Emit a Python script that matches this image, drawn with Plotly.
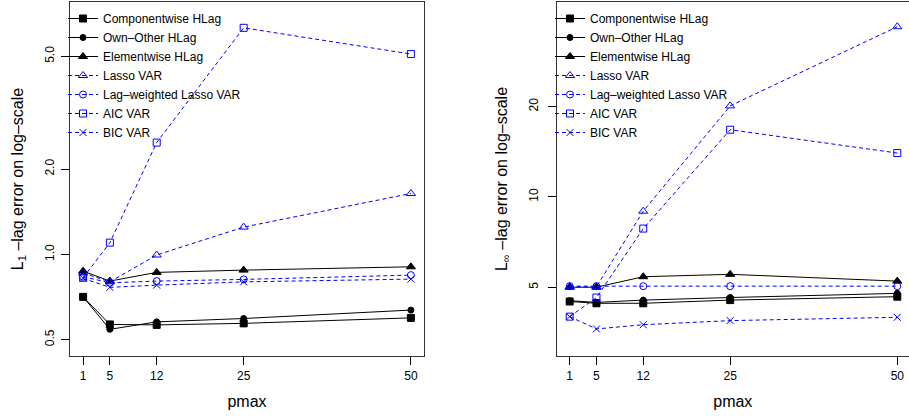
import plotly.graph_objects as go

pmax = [1, 5, 12, 25, 50]
methods = ["Componentwise HLag", "Own\u2013Other HLag", "Elementwise HLag",
           "Lasso VAR", "Lag\u2013weighted Lasso VAR", "AIC VAR", "BIC VAR"]

# L1-lag error (left panel)
l1_comp = [0.708, 0.566, 0.564, 0.571, 0.597]
l1_own = [0.708, 0.544, 0.578, 0.594, 0.636]
l1_elem = [0.873, 0.805, 0.864, 0.880, 0.904]
l1_lasso = [0.860, 0.800, 0.995, 1.248, 1.640]
l1_lagw = [0.834, 0.794, 0.805, 0.816, 0.845]
l1_aic = [0.827, 1.100, 2.480, 6.300, 5.090]
l1_bic = [0.823, 0.765, 0.779, 0.800, 0.818]

# L-infinity-lag error (right panel)
linf_comp = [4.48, 4.42, 4.42, 4.53, 4.65]
linf_own = [4.51, 4.45, 4.53, 4.62, 4.77]
linf_elem = [5.00, 5.00, 5.42, 5.52, 5.24]
linf_lasso = [5.02, 5.02, 8.96, 20.1, 36.9]
linf_lagw = [5.04, 5.04, 5.04, 5.04, 5.04]
linf_aic = [3.99, 4.62, 7.84, 16.74, 14.0]
linf_bic = [3.99, 3.63, 3.75, 3.87, 3.97]

left_vals = [l1_comp, l1_own, l1_elem, l1_lasso, l1_lagw, l1_aic, l1_bic]
right_vals = [linf_comp, linf_own, linf_elem, linf_lasso, linf_lagw, linf_aic, linf_bic]

BLUE = "#0000FF"
styles = [
    dict(color="black", dash="solid", symbol="square", size=7),
    dict(color="black", dash="solid", symbol="circle", size=6),
    dict(color="black", dash="solid", symbol="triangle-up", size=8),
    dict(color=BLUE, dash="4px,3px", symbol="triangle-up-open", size=8),
    dict(color=BLUE, dash="4px,3px", symbol="circle-open", size=7),
    dict(color=BLUE, dash="4px,3px", symbol="square-open", size=7),
    dict(color=BLUE, dash="4px,3px", symbol="x-thin-open", size=7),
]

W, H = 909, 416
fig = go.Figure()

for panel, vals in enumerate([left_vals, right_vals]):
    xa = "x" if panel == 0 else "x2"
    ya = "y" if panel == 0 else "y2"
    lg = "legend" if panel == 0 else "legend2"
    for name, v, st in zip(methods, vals, styles):
        fig.add_trace(go.Scatter(
            x=pmax, y=v, name=name, xaxis=xa, yaxis=ya, legend=lg,
            mode="lines+markers",
            line=dict(color=st["color"], width=1, dash=st["dash"]),
            marker=dict(symbol=st["symbol"], size=st["size"], color=st["color"],
                        line=dict(color=st["color"], width=1)),
        ))

font = dict(family="Liberation Sans, Arial, sans-serif", color="black")
ydom = [(H - 356) / H, (H - 2) / H]

common_x = dict(
    tickmode="array", tickvals=pmax, ticktext=[str(p) for p in pmax],
    ticks="outside", ticklen=8, tickcolor="black", tickwidth=1,
    showline=True, linecolor="#333", linewidth=1, mirror=True,
    showgrid=False, zeroline=False, ticklabelstandoff=1,
    tickfont=dict(size=12, **font),
    title=dict(text="pmax", font=dict(size=16, **font), standoff=13),
)
common_y = dict(
    type="log", ticks="outside", ticklen=8, tickcolor="black", tickwidth=1,
    showline=True, linecolor="#333", linewidth=1, mirror=True,
    showgrid=False, zeroline=False, tickangle=-90,
    tickfont=dict(size=12, **font),
)

fig.update_layout(
    width=W, height=H,
    margin=dict(l=0, r=0, t=0, b=0),
    paper_bgcolor="white", plot_bgcolor="white",
    font=font,
    xaxis=dict(domain=[70 / W, 424 / W], range=[-0.96, 51.96], anchor="y", **common_x),
    yaxis=dict(domain=ydom, range=[-0.3585, 0.8904], anchor="x",
               tickvals=[0.5, 1.0, 2.0, 5.0], ticktext=["0.5", "1.0", "2.0", "5.0"],
               ticklabelstandoff=2,
               title=dict(text="L<sub>1</sub> \u2013lag error on log\u2013scale",
                          font=dict(size=16, **font), standoff=15),
               **common_y),
    xaxis2=dict(domain=[556.6 / W, 1.0], range=[-0.96, 51.75], anchor="y2", **common_x),
    yaxis2=dict(domain=ydom, range=[0.4698, 1.6493], anchor="x2",
                tickvals=[5, 10, 20], ticktext=["5", "10", "20"],
                ticklabelstandoff=5,
                title=dict(text="L<sub>\u221e</sub> \u2013lag error on log\u2013scale",
                           font=dict(size=16, **font), standoff=15),
                **common_y),
    legend=dict(x=63 / W, y=1 - 4 / H, xanchor="left", yanchor="top",
                bgcolor="rgba(0,0,0,0)", font=dict(size=12, **font),
                itemwidth=30, tracegroupgap=0),
    legend2=dict(x=550 / W, y=1 - 4 / H, xanchor="left", yanchor="top",
                 bgcolor="rgba(0,0,0,0)", font=dict(size=12, **font),
                 itemwidth=30, tracegroupgap=0),
    showlegend=True,
)

fig.write_html("out.html", config={"displayModeBar": False},
               post_script="document.body.style.margin='0';")
